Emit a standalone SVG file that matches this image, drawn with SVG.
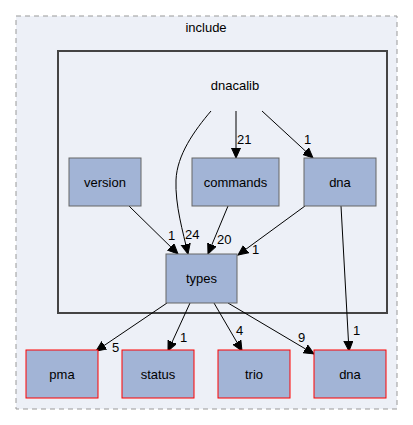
<svg xmlns="http://www.w3.org/2000/svg" width="413" height="425" viewBox="0 0 413 425">
<style>
text{font-family:"Liberation Sans",Arial,sans-serif;font-size:13px;fill:#000}
.c{text-anchor:middle}
.node{fill:#a2b4d6;stroke:#666;stroke-width:1}
.ext{fill:#a2b4d6;stroke:#ff0000;stroke-width:1}
.e{fill:none;stroke:#000;stroke-width:1;marker-end:url(#ah)}
</style>
<defs>
<marker id="ah" markerUnits="userSpaceOnUse" markerWidth="12" markerHeight="11" refX="10" refY="5" orient="auto">
<path d="M0,0.5 L10,5 L0,9.5 z" fill="#000" stroke="#000" stroke-width="1"/>
</marker>
</defs>
<rect width="413" height="425" fill="#ffffff"/>
<g id="cluster_include">
<rect x="16" y="16" width="381" height="393" fill="#edf0f7" stroke="#999" stroke-dasharray="5,4"/>
<text class="c" x="206" y="32">include</text>
</g>
<g id="cluster_dnacalib">
<rect x="58" y="51" width="329" height="262" fill="#edf0f7" stroke="#444" stroke-width="2"/>
<text class="c" x="235" y="90">dnacalib</text>
</g>
<g id="connectors">
<path class="e" d="M211,111 C194,131 177,155 176,180 C175,205 183,232 188,254"/>
<path class="e" d="M236,111 L236,158"/>
<path class="e" d="M262,111 L313,158"/>
<path class="e" d="M129,206 L178,254"/>
<path class="e" d="M228,206 L208,254"/>
<path class="e" d="M305,206 L238,255"/>
<path class="e" d="M341,206 L349,351"/>
<path class="e" d="M167,303 L96,351"/>
<path class="e" d="M190,303 L168,351"/>
<path class="e" d="M214,303 L242,351"/>
<path class="e" d="M228,303 L314,354"/>
<text x="185" y="239">24</text>
<text x="237" y="144">21</text>
<text x="304" y="144">1</text>
<text x="168" y="240">1</text>
<text x="217" y="244">20</text>
<text x="252" y="254">1</text>
<text x="353" y="335">1</text>
<text x="112" y="352">5</text>
<text x="180" y="342">1</text>
<text x="236" y="335">4</text>
<text x="298" y="342">9</text>
</g>
<g id="node_version">
<rect class="node" x="69" y="158" width="72" height="48"/>
<text class="c" x="105" y="187">version</text>
</g>
<g id="node_commands">
<rect class="node" x="192" y="158" width="87" height="48"/>
<text class="c" x="235.5" y="187">commands</text>
</g>
<g id="node_dna_inner">
<rect class="node" x="304" y="158" width="72" height="48"/>
<text class="c" x="340" y="187">dna</text>
</g>
<g id="node_types">
<rect class="node" x="166" y="254" width="71" height="49"/>
<text class="c" x="201.5" y="283">types</text>
</g>
<g id="node_pma">
<rect class="ext" x="26" y="350" width="72" height="48"/>
<text class="c" x="62" y="379">pma</text>
</g>
<g id="node_status">
<rect class="ext" x="122" y="350" width="72" height="48"/>
<text class="c" x="158" y="379">status</text>
</g>
<g id="node_trio">
<rect class="ext" x="218" y="350" width="72" height="48"/>
<text class="c" x="254" y="379">trio</text>
</g>
<g id="node_dna_outer">
<rect class="ext" x="314" y="350" width="72" height="48"/>
<text class="c" x="350" y="379">dna</text>
</g>
</svg>
